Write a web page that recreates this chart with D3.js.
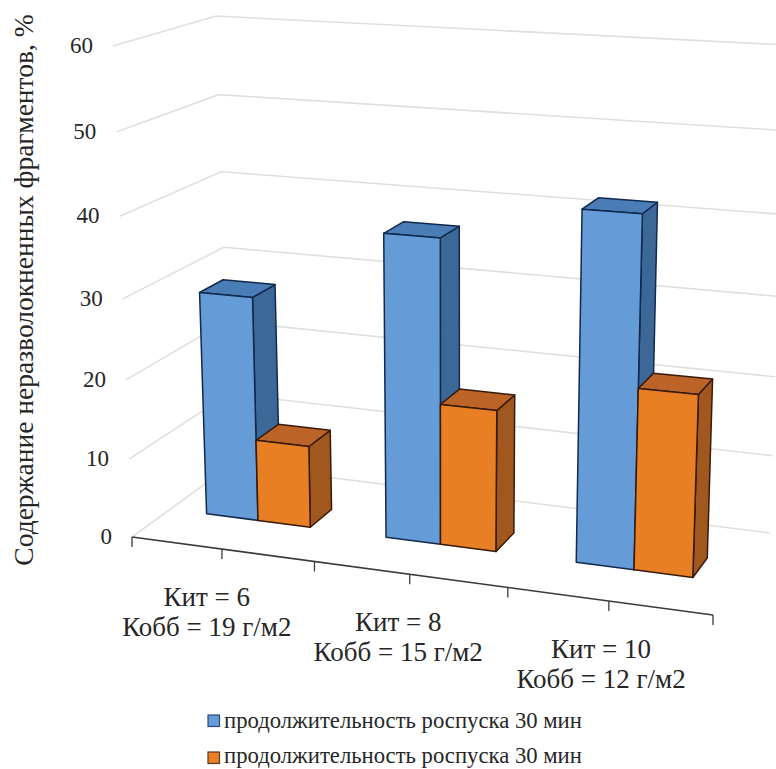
<!DOCTYPE html>
<html><head><meta charset="utf-8">
<script src="https://cdn.jsdelivr.net/npm/d3@7/dist/d3.min.js"></script>
<style>html,body{margin:0;padding:0;background:#fff;overflow:hidden}svg{display:block}text{font-family:"Liberation Serif","Times New Roman",serif;fill:#262626}</style>
</head><body><div id="chart"></div>
<script>
const categories = ["Кит = 6|Кобб = 19 г/м2", "Кит = 8|Кобб = 15 г/м2", "Кит = 10|Кобб = 12 г/м2"];
const seriesNames = ["продолжительность роспуска 30 мин", "продолжительность роспуска 30 мин"];
const seriesA = [28.7, 38, 42.7];
const seriesB = [10.5, 17.7, 22.2];
const valueTicks = [0, 10, 20, 30, 40, 50, 60];
const yTitle = "Содержание неразволокненных фрагментов, %";
const palette = [
  {front:"#659bd6", top:"#4a7db5", side:"#3c6898", stroke:"#10294d", key:"#2b4a72"},
  {front:"#e87f24", top:"#bc6428", side:"#a0581f", stroke:"#371a08", key:"#5a3a20"}
];

const W = 776, H = 769;
const svg = d3.select("#chart").append("svg").attr("width", W).attr("height", H);

// plot-box corners on screen: [value 0, value 60] for each of the four vertical edges
const corners = {
  frontLeft:  [[132,537],[113,46]],
  frontRight: [[713,615],[733,80]],
  backLeft:   [[231,465],[216,16]],
  backRight:  [[770,533],[786,45]]
};
const perspective = (k) => (t) => t / (1 + k * (1 - t));
const uWarp = perspective(0.092), vWarp = perspective(0.062);
const valueScale = d3.scaleLinear().domain([0, 60]).range([0, 1]);
const depthScale = d3.scaleLinear().domain([0, 1]).range([0, 1]);
const mix = (a, b, t) => [a[0] + (b[0]-a[0])*t, a[1] + (b[1]-a[1])*t];
function project(t, value, z) {
  const u = uWarp(t), v = vWarp(valueScale(value)), d = depthScale(z);
  const edge = (c) => mix(c[0], c[1], v);
  const fr = mix(edge(corners.frontLeft), edge(corners.frontRight), u);
  const bk = mix(edge(corners.backLeft), edge(corners.backRight), u);
  return mix(fr, bk, d);
}
const pathOf = (pts) => d3.line()(pts) + "Z";

// gridlines
const grid = svg.append("g").attr("fill", "none").attr("stroke", "#dfdfdf").attr("stroke-width", 1.6);
grid.selectAll("path").data(valueTicks).join("path")
  .attr("d", v => d3.line()([project(0,v,0), project(0,v,1), project(1,v,1)]));

// value labels
svg.append("g").selectAll("text").data(valueTicks).join("text")
  .attr("x", v => project(0,v,0)[0] - 20)
  .attr("y", v => project(0,v,0)[1] + 7)
  .attr("text-anchor", "end").attr("font-size", 23)
  .text(v => v);

// category axis
const xBand = d3.scaleBand().domain(d3.range(categories.length)).range([0,1]);
const axisTicks = d3.range(0, categories.length * 2 + 1).map(i => i / (categories.length * 2));
const axis = svg.append("g").attr("stroke", "#3a3a3a").attr("fill", "none");
axis.append("path").attr("stroke-width", 1.6).attr("d", d3.line()([project(0,0,0), project(1,0,0)]));
axis.selectAll("line").data(axisTicks).join("line")
  .attr("stroke-width", 1.3)
  .attr("x1", t => project(t,0,0)[0]).attr("x2", t => project(t,0,0)[0])
  .attr("y1", t => project(t,0,0)[1]).attr("y2", t => project(t,0,0)[1] + 10);

// bars
const inner = d3.scaleBand().domain([0,1]).range([0, xBand.bandwidth()]).paddingOuter(0.71).paddingInner(0);
const zFront = 0.39, zBack = 0.63;
const seriesValues = [seriesA, seriesB];
const barData = categories.flatMap((c, i) => seriesValues.map((vals, s) => ({i, s, value: vals[i]})));
const bars = svg.append("g").selectAll("g").data(barData).join("g")
  .attr("stroke-linejoin", "round").attr("stroke-width", 1.5)
  .attr("stroke", d => palette[d.s].stroke);
const tL = d => xBand(d.i) + inner(d.s), tR = d => tL(d) + inner.bandwidth();
bars.append("path").attr("fill", d => palette[d.s].side).attr("d", d => pathOf([
  project(tR(d),0,zFront), project(tR(d),0,zBack), project(tR(d),d.value,zBack), project(tR(d),d.value,zFront)]));
bars.append("path").attr("fill", d => palette[d.s].top).attr("d", d => pathOf([
  project(tL(d),d.value,zFront), project(tL(d),d.value,zBack), project(tR(d),d.value,zBack), project(tR(d),d.value,zFront)]));
bars.append("path").attr("fill", d => palette[d.s].front).attr("d", d => pathOf([
  project(tL(d),0,zFront), project(tR(d),0,zFront), project(tR(d),d.value,zFront), project(tL(d),d.value,zFront)]));

// category labels
const labels = svg.append("g").selectAll("text").data(categories).join("text")
  .attr("text-anchor", "middle").attr("font-size", 27);
labels.each(function(c, i) {
  const t = xBand(i) + xBand.bandwidth()/2, p = project(t,0,0);
  const x = p[0] - 17 + 11 * t;
  c.split("|").forEach((ln, k) => d3.select(this).append("tspan")
    .attr("x", x).attr("y", p[1] + 57 + k * 30).text(ln));
});

// axis title
svg.append("text").attr("transform", "translate(33,290) rotate(-90)")
  .attr("text-anchor", "middle").attr("font-size", 27.5).text(yTitle);

// legend
const legend = svg.append("g").selectAll("g").data(seriesNames).join("g");
legend.append("rect").attr("x", 208).attr("y", (d,i) => 715 + i*37).attr("width", 11.5).attr("height", 11.5)
  .attr("fill", (d,i) => palette[i].front).attr("stroke", (d,i) => palette[i].key).attr("stroke-width", 1.2);
legend.append("text").attr("x", 224).attr("y", (d,i) => 728 + i*35).attr("font-size", 22.7).text(d => d);
</script></body></html>
